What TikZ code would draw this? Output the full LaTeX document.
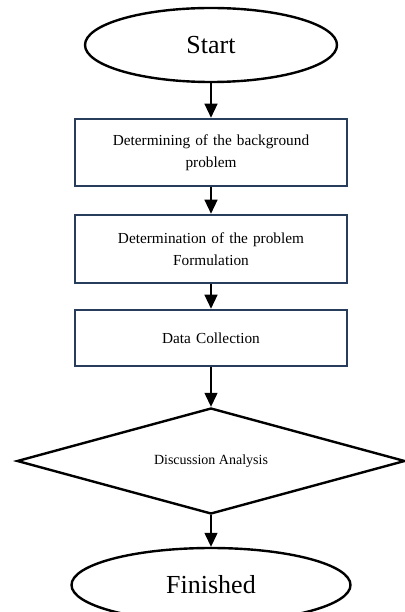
\documentclass[tikz,border=0pt]{standalone}
\usepackage{fontspec}
\setmainfont{Liberation Serif}
\usetikzlibrary{shapes.geometric,arrows.meta}

\definecolor{boxblue}{RGB}{40,60,92}

\tikzstyle{term} = [ellipse, draw, line width=2.4pt, inner sep=0pt,
                    minimum width=252pt, minimum height=74pt,
                    font=\fontsize{26}{30}\selectfont]
\tikzstyle{task} = [rectangle, draw=boxblue, line width=2.6pt, inner sep=0pt,
                    minimum width=272pt, text width=260pt, align=center,
                    font=\fontsize{15.3}{22}\selectfont]
\tikzstyle{choice} = [diamond, draw, line width=2.4pt, inner sep=0pt,
                      aspect=3.66, minimum width=388pt, minimum height=106pt,
                      font=\fontsize{14}{18}\selectfont]
\tikzstyle{flow} = [-{Triangle[width=13pt,length=14pt]}, line width=1.3pt]

\begin{document}
\begin{tikzpicture}[x=1pt, y=1pt]
  \useasboundingbox (0,0) rectangle (404,-612);

  %% Start and the three steps
  \node (start) [term] at (211,-45) {Start};
  \node (background) [task, minimum height=67pt] at (211,-152.5)
        {Determining of the background\\ problem};
  \node (formulation) [task, minimum height=68pt] at (211,-249)
        {Determination of the problem\\ Formulation};
  \node (collection) [task, minimum height=56pt] at (211,-338)
        {Data Collection};

  %% Analysis and end
  \node (analysis) [choice] at (211,-461) {Discussion Analysis};
  \node (finished) [term, minimum width=279pt] at (211,-585) {Finished};

  \draw [flow] (start) -- (background);
  \draw [flow] (background) -- (formulation);
  \draw [flow] (formulation) -- (collection);
  \draw [flow] (collection) -- (analysis);
  \draw [flow] (analysis) -- (finished);

\end{tikzpicture}
\end{document}
